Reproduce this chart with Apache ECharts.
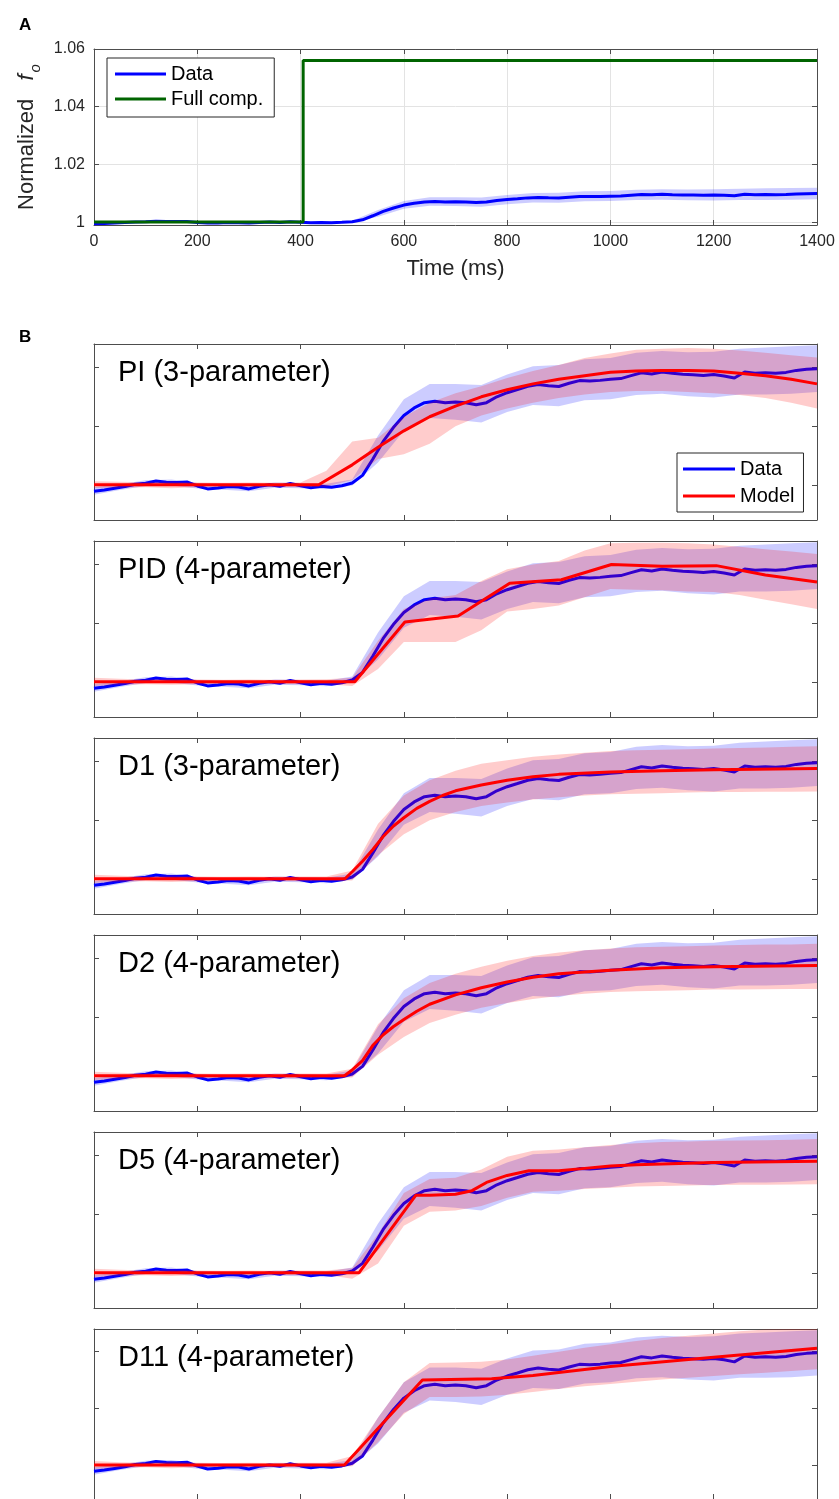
<!DOCTYPE html>
<html>
<head>
<meta charset="utf-8">
<script src="https://cdn.jsdelivr.net/npm/echarts@6/dist/echarts.min.js"></script>
<style>html,body{margin:0;padding:0;background:#fff}#chart{width:839px;height:1499px}</style>
</head>
<body>
<div id="chart"></div>
<script>
// ---------- DATA ----------
const timeMs = [0,20,40,60,80,100,120,140,160,180,200,220,240,260,280,300,320,340,360,380,400,420,440,460,480,500,520,540,560,580,600,620,640,660,680,700,720,740,760,780,800,820,840,860,880,900,920,940,960,980,1000,1020,1040,1060,1080,1100,1120,1140,1160,1180,1200,1220,1240,1260,1280,1300,1320,1340,1360,1380,1400];
const dataMean = [0.99945,0.99955,0.99970,0.99985,1.00005,1.00014,1.00032,1.00022,1.00020,1.00024,0.99990,0.99965,0.99972,0.99985,0.99982,0.99965,0.99988,1.00000,0.99988,1.00012,0.99992,0.99975,0.99988,0.99980,0.99992,1.00015,1.00080,1.00220,1.00370,1.00490,1.00590,1.00655,1.00700,1.00712,1.00700,1.00705,1.00700,1.00682,1.00700,1.00750,1.00785,1.00812,1.00840,1.00855,1.00845,1.00838,1.00865,1.00888,1.00885,1.00890,1.00900,1.00905,1.00930,1.00955,1.00945,1.00962,1.00950,1.00942,1.00938,1.00932,1.00940,1.00928,1.00910,1.00962,1.00950,1.00955,1.00950,1.00958,1.00975,1.00985,1.00990];

const bandT = [0,50,100,150,200,250,300,350,400,450,500,550,600,650,700,750,800,850,900,950,1000,1050,1100,1150,1200,1250,1300,1350,1400];
const dataLower = [0.99915,0.99955,0.99990,0.99995,0.99968,0.99958,0.99945,0.99975,0.99970,0.99962,0.99995,1.00190,1.00460,1.00570,1.00555,1.00530,1.00620,1.00680,1.00670,1.00720,1.00730,1.00765,1.00775,1.00755,1.00745,1.00770,1.00770,1.00775,1.00790];
const dataUpper = [0.99980,1.00005,1.00038,1.00045,1.00015,1.00005,0.99990,1.00020,1.00015,1.00010,1.00045,1.00420,1.00730,1.00860,1.00860,1.00850,1.00940,1.01010,1.01020,1.01070,1.01080,1.01125,1.01140,1.01130,1.01135,1.01160,1.01170,1.01180,1.01190];

const fullCompT = [0,405,405,1400];
const fullCompV = [1.0000,1.0000,1.0560,1.0560];

const piT = [0,435,500,550,600,650,700,750,800,850,900,950,1000,1050,1100,1150,1200,1250,1300,1350,1400];
const piV = [1.0000,1.0000,1.0017,1.0032,1.0046,1.0058,1.0067,1.0075,1.0081,1.0086,1.0090,1.0093,1.0096,1.0097,1.00975,1.00975,1.0097,1.0095,1.0093,1.0090,1.0086];
const piLower = [0.99972,0.99975,0.99980,0.99970,0.99980,0.99982,0.99980,0.99982,0.99980,0.99985,1.00040,1.00220,1.00260,1.00350,1.00500,1.00590,1.00650,1.00700,1.00740,1.00770,1.00790,1.00800,1.00800,1.00790,1.00780,1.00765,1.00740,1.00700,1.00650];
const piUpper = [1.00030,1.00025,1.00022,1.00028,1.00020,1.00018,1.00020,1.00018,1.00020,1.00120,1.00370,1.00400,1.00580,1.00700,1.00780,1.00840,1.00910,1.00970,1.01020,1.01080,1.01120,1.01150,1.01160,1.01165,1.01160,1.01145,1.01125,1.01105,1.01085];

const pidT = [0,505,602,705,805,905,1002,1100,1205,1300,1400];
const pidV = [1.0000,1.0000,1.0051,1.0056,1.0084,1.0087,1.0100,1.00985,1.0099,1.0091,1.0085];
const pidLower = [0.99965,0.99975,0.99980,0.99975,0.99980,0.99982,0.99980,0.99982,0.99980,0.99980,0.99965,1.00110,1.00340,1.00340,1.00340,1.00440,1.00600,1.00620,1.00650,1.00720,1.00790,1.00785,1.00780,1.00770,1.00765,1.00740,1.00700,1.00660,1.00620];
const pidUpper = [1.00035,1.00025,1.00020,1.00025,1.00020,1.00018,1.00020,1.00018,1.00020,1.00022,1.00035,1.00350,1.00620,1.00710,1.00740,1.00860,1.00960,1.01000,1.01030,1.01120,1.01180,1.01185,1.01185,1.01180,1.01170,1.01150,1.01130,1.01110,1.01090];

const d1T = [0,486,500,520,540,560,580,600,625,650,675,700,750,800,850,900,1000,1100,1200,1400];
const d1V = [1.0000,1.0000,1.0006,1.0015,1.0025,1.0036,1.0045,1.0052,1.0060,1.0066,1.0071,1.0075,1.0080,1.0084,1.0087,1.0089,1.0091,1.0092,1.0093,1.0094];
const d1Lower = [0.99965,0.99975,0.99980,0.99972,0.99980,0.99982,0.99980,0.99982,0.99980,0.99982,0.99985,1.00200,1.00380,1.00500,1.00570,1.00620,1.00650,1.00675,1.00695,1.00710,1.00720,1.00725,1.00730,1.00735,1.00740,1.00740,1.00742,1.00742,1.00745];
const d1Upper = [1.00035,1.00025,1.00020,1.00028,1.00020,1.00018,1.00020,1.00018,1.00020,1.00020,1.00070,1.00470,1.00710,1.00840,1.00920,1.00980,1.01010,1.01040,1.01060,1.01075,1.01090,1.01095,1.01100,1.01105,1.01110,1.01115,1.01120,1.01125,1.01130];

const d2T = [0,485,500,520,540,560,580,600,625,650,700,750,800,850,900,1000,1100,1200,1400];
const d2V = [1.0000,1.0000,1.0005,1.0013,1.0026,1.0035,1.0042,1.0048,1.0055,1.0061,1.0069,1.0075,1.0080,1.0084,1.0087,1.0090,1.0092,1.0093,1.0094];
const d2Lower = [0.99965,0.99975,0.99980,0.99972,0.99980,0.99982,0.99980,0.99982,0.99980,0.99982,0.99985,1.00180,1.00330,1.00450,1.00520,1.00580,1.00620,1.00655,1.00680,1.00700,1.00715,1.00720,1.00725,1.00730,1.00735,1.00735,1.00738,1.00740,1.00740];
const d2Upper = [1.00035,1.00025,1.00020,1.00028,1.00020,1.00018,1.00020,1.00018,1.00020,1.00020,1.00060,1.00440,1.00660,1.00790,1.00870,1.00930,1.00980,1.01020,1.01050,1.01070,1.01085,1.01095,1.01100,1.01105,1.01110,1.01115,1.01118,1.01120,1.01125];

const d5T = [0,513,623,650,700,732,760,800,842,900,950,1000,1050,1200,1400];
const d5V = [1.0000,1.0000,1.0066,1.0066,1.0067,1.0070,1.0077,1.0083,1.0087,1.0087,1.0089,1.0091,1.0092,1.0094,1.0095];
const d5Lower = [0.99965,0.99975,0.99980,0.99972,0.99980,0.99982,0.99980,0.99982,0.99980,0.99982,0.99950,1.00080,1.00400,1.00520,1.00530,1.00570,1.00640,1.00690,1.00700,1.00715,1.00725,1.00735,1.00740,1.00745,1.00748,1.00750,1.00750,1.00752,1.00755];
const d5Upper = [1.00035,1.00025,1.00020,1.00028,1.00020,1.00018,1.00020,1.00018,1.00020,1.00020,1.00040,1.00330,1.00680,1.00800,1.00810,1.00880,1.00990,1.01040,1.01050,1.01070,1.01090,1.01105,1.01115,1.01120,1.01125,1.01128,1.01130,1.01135,1.01140];

const d11T = [0,485,636,770,850,1000,1200,1400];
const d11V = [1.0000,1.0000,1.0075,1.0076,1.0079,1.0087,1.0095,1.0103];
const d11Lower = [0.99965,0.99975,0.99980,0.99972,0.99980,0.99982,0.99980,0.99982,0.99980,0.99982,0.99990,1.00200,1.00450,1.00600,1.00600,1.00605,1.00620,1.00645,1.00670,1.00695,1.00715,1.00735,1.00755,1.00770,1.00785,1.00800,1.00815,1.00830,1.00845];
const d11Upper = [1.00035,1.00025,1.00020,1.00028,1.00020,1.00018,1.00020,1.00018,1.00020,1.00020,1.00080,1.00420,1.00730,1.00900,1.00905,1.00910,1.00930,1.00965,1.01000,1.01035,1.01065,1.01095,1.01120,1.01140,1.01160,1.01180,1.01195,1.01200,1.01200];

const modelNames = ['PI (3-parameter)','PID (4-parameter)','D1 (3-parameter)','D2 (4-parameter)','D5 (4-parameter)','D11 (4-parameter)'];
const aYTicks = [1, 1.02, 1.04, 1.06];
const bYTicks = [1, 1.005, 1.01];

// ---------- BUILD ----------
const models = [
  {t: piT, v: piV, lo: piLower, hi: piUpper},
  {t: pidT, v: pidV, lo: pidLower, hi: pidUpper},
  {t: d1T, v: d1V, lo: d1Lower, hi: d1Upper},
  {t: d2T, v: d2V, lo: d2Lower, hi: d2Upper},
  {t: d5T, v: d5V, lo: d5Lower, hi: d5Upper},
  {t: d11T, v: d11V, lo: d11Lower, hi: d11Upper}
];
const FONT = '"Liberation Sans", Arial, Helvetica, sans-serif';
const AX = '#4d4d4d';
const TXT = '#262626';
const pairs = (ts, vs) => ts.map((t, i) => [t, vs[i]]);

function bandSeries(ts, lo, hi, color, ax, z) {
  return {
    type: 'custom', xAxisIndex: ax, yAxisIndex: ax, clip: true, silent: true, z: z,
    data: ts.map((t, i) => [t, lo[i], hi[i]]),
    encode: {x: 0, y: [1, 2]},
    renderItem: function (params, api) {
      if (params.dataIndex !== 0) return null;
      const pts = [];
      for (let i = 0; i < ts.length; i++) pts.push(api.coord([ts[i], hi[i]]));
      for (let i = ts.length - 1; i >= 0; i--) pts.push(api.coord([ts[i], lo[i]]));
      return {type: 'polygon', shape: {points: pts}, style: {fill: color}};
    }
  };
}

const grids = [], xAxes = [], yAxes = [], series = [], titles = [];
const GL = 94, GW = 723, GH = 176;
const tops = [49, 344, 541, 738, 935, 1132, 1329];

function addAxes(g, isA) {
  const line = {show: true, onZero: false, lineStyle: {color: AX, width: 1}};
  const tick = {show: true, inside: true, length: 5, lineStyle: {color: AX, width: 1}};
  const yMin = isA ? 0.999 : 0.997, yMax = isA ? 1.06 : 1.012;
  const yt = isA ? aYTicks : bYTicks;
  xAxes.push({
    type: 'value', gridIndex: g, min: 0, max: 1400, interval: 200, position: 'bottom',
    axisLine: line, axisTick: tick,
    axisLabel: {show: isA, fontSize: 16, color: TXT, fontFamily: FONT, margin: 9, formatter: v => String(v)},
    splitLine: {show: isA, lineStyle: {color: '#e3e3e3', width: 1}},
    name: isA ? 'Time (ms)' : '', nameLocation: 'middle', nameGap: 33,
    nameTextStyle: {fontSize: 22, color: TXT, fontFamily: FONT}
  });
  xAxes.push({
    type: 'value', gridIndex: g, min: 0, max: 1400, interval: 200, position: 'top',
    axisLine: line, axisTick: tick, axisLabel: {show: false}, splitLine: {show: false}
  });
  yAxes.push({
    type: 'value', gridIndex: g, min: yMin, max: yMax, position: 'left',
    axisLine: line,
    axisTick: Object.assign({customValues: yt}, tick),
    axisLabel: {show: isA, customValues: yt, fontSize: 16, color: TXT, fontFamily: FONT, margin: 9,
      formatter: v => (Math.abs(v - 1) < 1e-9 ? '1' : v.toFixed(2))},
    splitLine: {show: isA, lineStyle: {color: '#e3e3e3', width: 1}},
    name: isA ? '{n|Normalized }{f|f}{o|o}' : '', nameLocation: 'middle', nameGap: 46,
    nameTextStyle: {fontSize: 22, color: TXT, fontFamily: FONT,
      rich: {
        n: {fontSize: 22, color: TXT, fontFamily: FONT, lineHeight: 22, verticalAlign: 'top'},
        f: {fontSize: 22, color: TXT, fontFamily: FONT, fontStyle: 'italic', lineHeight: 22, verticalAlign: 'top', padding: [0, 2, 0, 12]},
        o: {fontSize: 15, color: TXT, fontFamily: FONT, fontStyle: 'italic', lineHeight: 22, verticalAlign: 'top', padding: [12, 0, 0, 0]}
      }}
  });
  yAxes.push({
    type: 'value', gridIndex: g, min: yMin, max: yMax, position: 'right',
    axisLine: line, axisTick: Object.assign({customValues: yt}, tick),
    axisLabel: {show: false}, splitLine: {show: false}
  });
}

// Panel A
grids.push({left: GL, width: GW, top: tops[0], height: GH});
addAxes(0, true);
series.push(bandSeries(bandT, dataLower, dataUpper, 'rgba(0,0,255,0.2)', 0, 1));
series.push({type: 'line', name: 'Data', xAxisIndex: 0, yAxisIndex: 0, data: pairs(timeMs, dataMean), z: 2,
  showSymbol: false, symbol: 'none', color: '#0000ff', lineStyle: {color: '#0000ff', width: 3}, silent: true});
series.push({type: 'line', name: 'Full comp.', xAxisIndex: 0, yAxisIndex: 0, data: pairs(fullCompT, fullCompV), z: 3,
  showSymbol: false, symbol: 'none', color: '#006400', lineStyle: {color: '#006400', width: 3}, silent: true});

// Panel B subplots
models.forEach((m, k) => {
  const g = k + 1;
  const ai = 2 * g;
  grids.push({left: GL, width: GW, top: tops[g], height: GH});
  addAxes(g, false);
  series.push(bandSeries(bandT, dataLower, dataUpper, 'rgba(0,0,255,0.2)', ai, 1));
  series.push({type: 'line', name: 'Data', xAxisIndex: ai, yAxisIndex: ai, data: pairs(timeMs, dataMean), z: 2,
    showSymbol: false, symbol: 'none', color: '#0000ff', lineStyle: {color: '#0000ff', width: 3}, silent: true});
  series.push(bandSeries(bandT, m.lo, m.hi, 'rgba(255,0,0,0.2)', ai, 3));
  series.push({type: 'line', name: 'Model', xAxisIndex: ai, yAxisIndex: ai, data: pairs(m.t, m.v), z: 4,
    showSymbol: false, symbol: 'none', color: '#ff0000', lineStyle: {color: '#ff0000', width: 3}, silent: true});
  titles.push({text: modelNames[k], left: 113, top: tops[g] + 9,
    textStyle: {fontSize: 29, fontWeight: 'normal', color: '#000', fontFamily: FONT}});
});

titles.push({text: 'A', left: 14, top: 12, textStyle: {fontSize: 17, fontWeight: 'bold', color: '#000', fontFamily: FONT}});
titles.push({text: 'B', left: 14, top: 324, textStyle: {fontSize: 17, fontWeight: 'bold', color: '#000', fontFamily: FONT}});

const legendCommon = {orient: 'vertical', icon: 'rect', selectedMode: false, backgroundColor: '#fff', z: 10,
  borderColor: '#262626', borderWidth: 1, borderRadius: 0};
const legends = [
  Object.assign({}, legendCommon, {
    left: 107, top: 58, itemWidth: 51, itemHeight: 3, itemGap: 5, padding: [6, 11, 8, 8],
    textStyle: {fontSize: 20, lineHeight: 20, color: '#000', fontFamily: FONT},
    data: [{name: 'Data', itemStyle: {color: '#0000ff'}}, {name: 'Full comp.', itemStyle: {color: '#006400'}}]
  }),
  Object.assign({}, legendCommon, {
    left: 677, top: 453, itemWidth: 52, itemHeight: 3, itemGap: 7, padding: [6, 9, 6, 6],
    textStyle: {fontSize: 20, lineHeight: 20, color: '#000', fontFamily: FONT},
    data: [{name: 'Data', itemStyle: {color: '#0000ff'}}, {name: 'Model', itemStyle: {color: '#ff0000'}}]
  })
];

const chart = echarts.init(document.getElementById('chart'), null, {renderer: 'canvas'});
chart.setOption({
  animation: false,
  backgroundColor: '#fff',
  textStyle: {fontFamily: FONT},
  title: titles,
  legend: legends,
  grid: grids,
  xAxis: xAxes,
  yAxis: yAxes,
  series: series
});
</script>
</body>
</html>
